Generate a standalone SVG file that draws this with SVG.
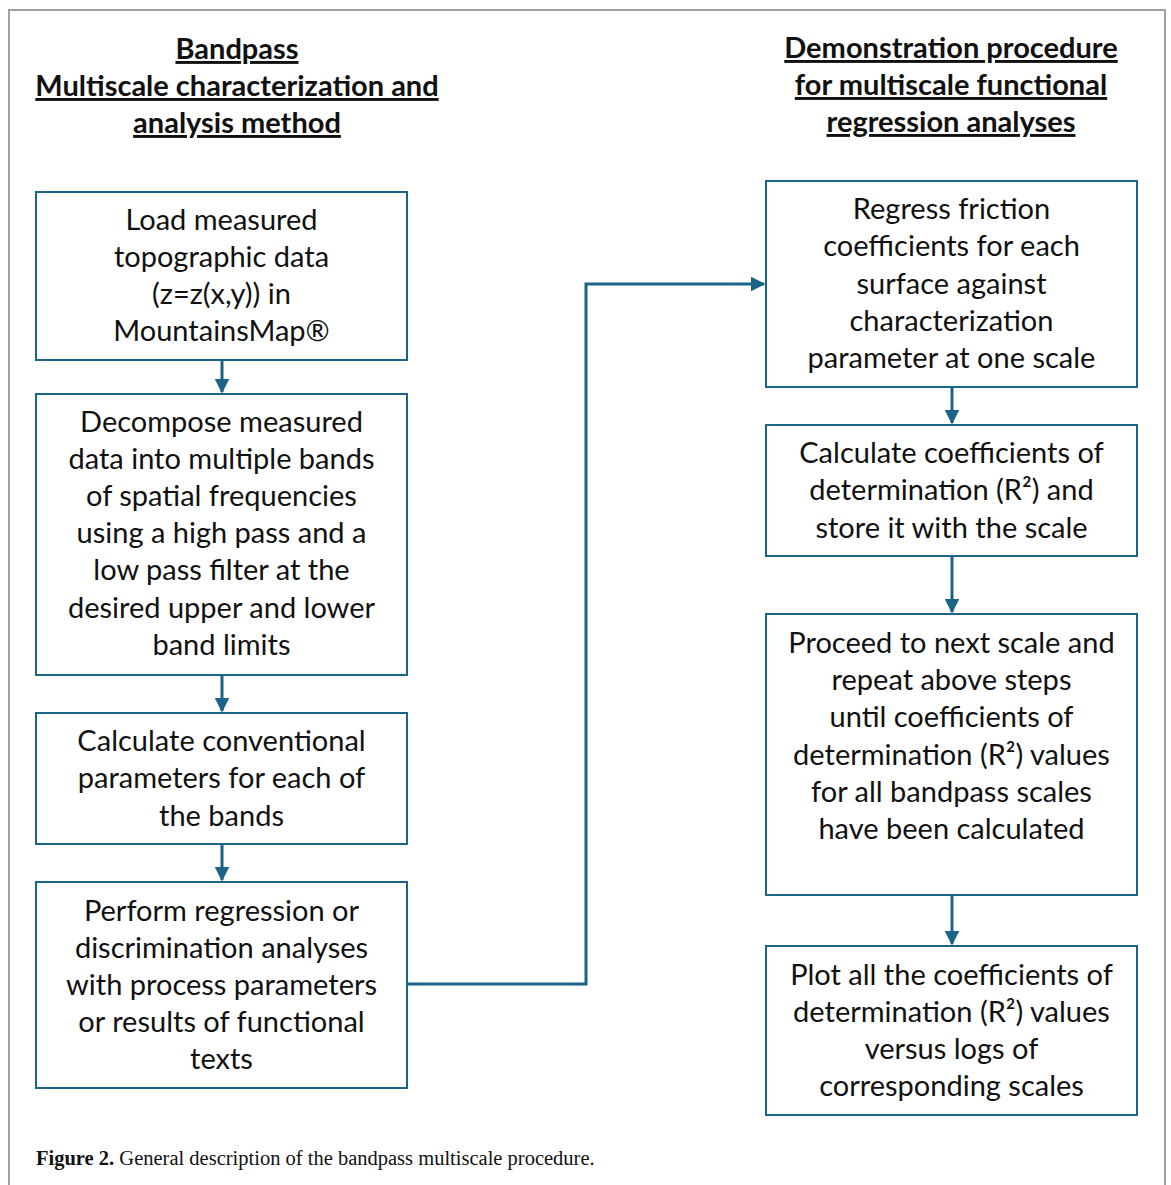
<svg xmlns="http://www.w3.org/2000/svg" width="1171" height="1185" viewBox="0 0 1171 1185">
<style>
.box{fill:#fff;stroke:#1b6387;stroke-width:2}
.t{font-family:Lato,"Open Sans","Liberation Sans",sans-serif;font-size:29px;fill:#111;text-anchor:middle}
.h{font-family:Lato,"Open Sans","Liberation Sans",sans-serif;font-size:29px;font-weight:bold;fill:#111;text-anchor:middle;text-decoration:underline}
.c{fill:none;stroke:#1b6387;stroke-width:3}
.cap{font-family:"Liberation Serif",serif;font-size:20.5px;fill:#111}
</style>
<defs>
<marker id="ah" markerWidth="5" markerHeight="5" refX="4.5" refY="2.5" orient="auto" markerUnits="strokeWidth">
<path d="M0,0 L5,2.5 L0,5 z" fill="#1b6387"/>
</marker>
</defs>
<rect x="0" y="0" width="1171" height="1185" fill="#fff"/>
<path d="M9,1185 V10 H1165 V1185" fill="none" stroke="#a0a0a0" stroke-width="2"/>
<g id="head-left">
<text class="h" x="237" y="59">Bandpass</text>
<text class="h" x="237" y="96">Multiscale characterization and</text>
<text class="h" x="237" y="133">analysis method</text>
</g>
<g id="head-right">
<text class="h" x="951" y="58">Demonstration procedure</text>
<text class="h" x="951" y="95">for multiscale functional</text>
<text class="h" x="951" y="132">regression analyses</text>
</g>
<g id="connectors">
<line class="c" x1="222" y1="360" x2="222" y2="392" marker-end="url(#ah)"/>
<line class="c" x1="222" y1="675" x2="222" y2="711" marker-end="url(#ah)"/>
<line class="c" x1="222" y1="844" x2="222" y2="880" marker-end="url(#ah)"/>
<polyline class="c" points="407,984 586,984 586,284 764,284" marker-end="url(#ah)"/>
<line class="c" x1="952" y1="387" x2="952" y2="423" marker-end="url(#ah)"/>
<line class="c" x1="952" y1="556" x2="952" y2="612" marker-end="url(#ah)"/>
<line class="c" x1="952" y1="895" x2="952" y2="944" marker-end="url(#ah)"/>
</g>
<g id="n1">
<rect class="box" x="36" y="192" width="371" height="168"/>
<text class="t" x="221.5" y="230">Load measured</text>
<text class="t" x="221.5" y="267">topographic data</text>
<text class="t" x="221.5" y="304">(z=z(x,y)) in</text>
<text class="t" x="221.5" y="341">MountainsMap®</text>
</g>
<g id="n2">
<rect class="box" x="36" y="394" width="371" height="281"/>
<text class="t" x="221.5" y="432">Decompose measured</text>
<text class="t" x="221.5" y="469">data into multiple bands</text>
<text class="t" x="221.5" y="506">of spatial frequencies</text>
<text class="t" x="221.5" y="543">using a high pass and a</text>
<text class="t" x="221.5" y="580">low pass filter at the</text>
<text class="t" x="221.5" y="618">desired upper and lower</text>
<text class="t" x="221.5" y="655">band limits</text>
</g>
<g id="n3">
<rect class="box" x="36" y="713" width="371" height="131"/>
<text class="t" x="221.5" y="751">Calculate conventional</text>
<text class="t" x="221.5" y="788">parameters for each of</text>
<text class="t" x="221.5" y="826">the bands</text>
</g>
<g id="n4">
<rect class="box" x="36" y="882" width="371" height="206"/>
<text class="t" x="221.5" y="921">Perform regression or</text>
<text class="t" x="221.5" y="958">discrimination analyses</text>
<text class="t" x="221.5" y="995">with process parameters</text>
<text class="t" x="221.5" y="1032">or results of functional</text>
<text class="t" x="221.5" y="1069">texts</text>
</g>
<g id="r1">
<rect class="box" x="766" y="181" width="371" height="206"/>
<text class="t" x="951.5" y="219">Regress friction</text>
<text class="t" x="951.5" y="256">coefficients for each</text>
<text class="t" x="951.5" y="294">surface against</text>
<text class="t" x="951.5" y="331">characterization</text>
<text class="t" x="951.5" y="368">parameter at one scale</text>
</g>
<g id="r2">
<rect class="box" x="766" y="425" width="371" height="131"/>
<text class="t" x="951.5" y="463">Calculate coefficients of</text>
<text class="t" x="951.5" y="500">determination (R²) and</text>
<text class="t" x="951.5" y="538">store it with the scale</text>
</g>
<g id="r3">
<rect class="box" x="766" y="614" width="371" height="281"/>
<text class="t" x="951.5" y="653">Proceed to next scale and</text>
<text class="t" x="951.5" y="690">repeat above steps</text>
<text class="t" x="951.5" y="727">until coefficients of</text>
<text class="t" x="951.5" y="765">determination (R²) values</text>
<text class="t" x="951.5" y="802">for all bandpass scales</text>
<text class="t" x="951.5" y="839">have been calculated</text>
</g>
<g id="r4">
<rect class="box" x="766" y="946" width="371" height="169"/>
<text class="t" x="951.5" y="985">Plot all the coefficients of</text>
<text class="t" x="951.5" y="1022">determination (R²) values</text>
<text class="t" x="951.5" y="1059">versus logs of</text>
<text class="t" x="951.5" y="1096">corresponding scales</text>
</g>
<text class="cap" x="36" y="1165"><tspan font-weight="bold">Figure 2.</tspan> General description of the bandpass multiscale procedure.</text>
</svg>
